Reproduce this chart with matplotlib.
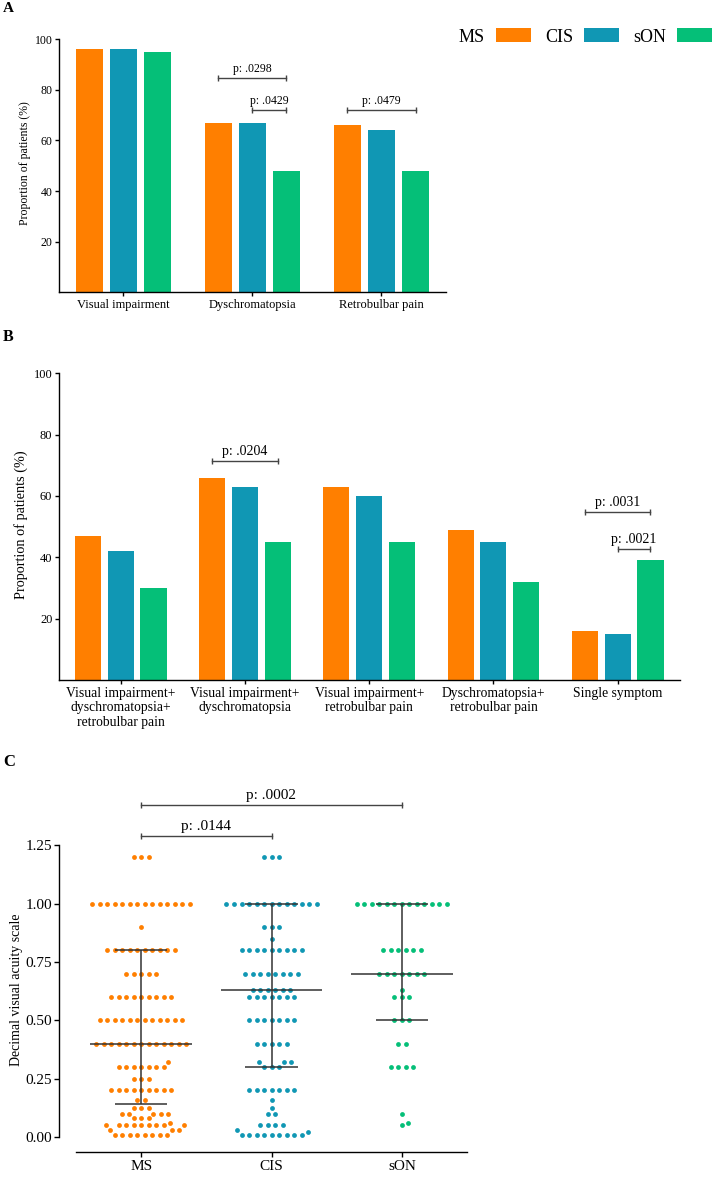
import numpy as np
import matplotlib
matplotlib.use('Agg')
import matplotlib.pyplot as plt

plt.rcParams['font.family'] = ['Liberation Serif', 'DejaVu Serif']
plt.rcParams['axes.linewidth'] = 1.0

W, H = 720, 1177

# ---------------- data ----------------
groups = ['MS', 'CIS', 'sON']
group_colors = ['#FF7F00', '#1097B4', '#05BF78']

# Panel A
a_categories = ['Visual impairment', 'Dyschromatopsia', 'Retrobulbar pain']
a_ms = [96, 67, 66]
a_cis = [96, 67, 64]
a_son = [95, 48, 48]
# (category, group i, group j, height, label)
a_brackets = [(1, 0, 2, 84.5, 'p: .0298'),
              (1, 1, 2, 72.0, 'p: .0429'),
              (2, 0, 2, 72.0, 'p: .0479')]

# Panel B
b_categories = ['Visual impairment+\ndyschromatopsia+\nretrobulbar pain',
                'Visual impairment+\ndyschromatopsia',
                'Visual impairment+\nretrobulbar pain',
                'Dyschromatopsia+\nretrobulbar pain',
                'Single symptom']
b_ms = [47, 66, 63, 49, 16]
b_cis = [42, 63, 60, 45, 15]
b_son = [30, 45, 45, 32, 39]
b_brackets = [(1, 0, 2, 71.4, 'p: .0204'),
              (4, 0, 2, 54.9, 'p: .0031'),
              (4, 1, 2, 42.7, 'p: .0021')]

# Panel C (decimal visual acuity: value, number of patients)
ms_values = [1.20, 1.00, 0.90, 0.80, 0.70, 0.60, 0.50, 0.40, 0.32, 0.30,
             0.25, 0.20, 0.16, 0.125, 0.10, 0.08, 0.06, 0.05, 0.03, 0.01]
ms_counts = [3, 14, 1, 10, 5, 9, 12, 13, 1, 7,
             3, 9, 2, 3, 5, 3, 1, 9, 3, 8]
cis_values = [1.20, 1.00, 0.90, 0.85, 0.80, 0.70, 0.63, 0.60, 0.50, 0.40,
              0.32, 0.30, 0.20, 0.16, 0.125, 0.10, 0.05, 0.03, 0.02, 0.01]
cis_counts = [3, 13, 3, 1, 9, 8, 6, 7, 7, 5,
              3, 3, 7, 1, 1, 2, 4, 1, 1, 9]
son_values = [1.00, 0.80, 0.70, 0.63, 0.60, 0.50, 0.40, 0.30, 0.10, 0.06, 0.05]
son_counts = [13, 6, 7, 1, 3, 3, 2, 4, 1, 1, 1]
c_medians = [0.40, 0.63, 0.70]
c_q1 = [0.14, 0.30, 0.50]
c_q3 = [0.80, 1.00, 1.00]
c_brackets = [(0, 2, 1.421, 'p: .0002'),
              (0, 1, 1.290, 'p: .0144')]

# ---------------- figure ----------------
fig = plt.figure(figsize=(W / 100, H / 100), dpi=100)


def px_axes(left, top, right, bottom):
    return fig.add_axes([left / W, 1 - bottom / H, (right - left) / W, (bottom - top) / H])


bar_step = 0.264
bar_width = 0.21
br_color = '#444444'


def bracket(ax, x1, x2, y, text, fs):
    ax.plot([x1, x2], [y, y], color=br_color, lw=1.0, marker='|', markersize=5,
            markeredgewidth=1.0, clip_on=False, zorder=4)
    ax.annotate(text, xy=((x1 + x2) / 2, y), xytext=(0, 2.2), textcoords='offset points',
                ha='center', va='bottom', fontsize=fs, annotation_clip=False)


def bar_panel(ax, cats, series, brackets, xfs, yfs, pfs):
    x = np.arange(len(cats))
    conts = []
    for k, vals in enumerate(series):
        conts.append(ax.bar(x + (k - 1) * bar_step, vals, bar_width,
                            color=group_colors[k], linewidth=0, zorder=2))
    ax.set_xlim(-0.5, len(cats) - 0.5)
    ax.set_ylim(0, 100)
    ax.set_yticks([20, 40, 60, 80, 100])
    ax.set_xticks(x)
    ax.set_xticklabels(cats, fontsize=xfs, linespacing=1.15)
    ax.tick_params(axis='y', labelsize=yfs, length=3, width=1, pad=1.5)
    ax.tick_params(axis='x', length=3, width=1, pad=2)
    for s in ['top', 'right']:
        ax.spines[s].set_visible(False)
    for (c, i, j, h, lab) in brackets:
        bracket(ax, c + (i - 1) * bar_step, c + (j - 1) * bar_step, h, lab, pfs)
    return conts


# Panel A
axA = px_axes(58.7, 39, 446, 292.4)
contsA = bar_panel(axA, a_categories, [a_ms, a_cis, a_son], a_brackets, 9, 8.5, 8.5)

# Panel B
axB = px_axes(58.6, 373.3, 679.8, 680)
bar_panel(axB, b_categories, [b_ms, b_cis, b_son], b_brackets, 9.8, 8.9, 10)

# Legend
fig.legend(handles=contsA, labels=groups, ncol=3, markerfirst=False, frameon=False,
           loc='center left', bbox_to_anchor=(459 / W, 1 - 37 / H), fontsize=13,
           handlelength=1.94, handleheight=0.83, handletextpad=0.6, columnspacing=0.78,
           borderpad=0, borderaxespad=0)

# Panel C
axC = px_axes(76, 845.3, 467, 1137)
axC.set_xlim(-0.5, 2.5)
axC.set_ylim(0, 1.25)
for s in ['top', 'right']:
    axC.spines[s].set_visible(False)
axC.spines['left'].set_position(('outward', 12))
axC.spines['bottom'].set_position(('outward', 10.8))
axC.set_yticks([0, 0.25, 0.5, 0.75, 1.0, 1.25])
axC.set_yticklabels(['%.2f' % v for v in [0, 0.25, 0.5, 0.75, 1.0, 1.25]])
axC.set_xticks([0, 1, 2])
axC.set_xticklabels(groups)
axC.tick_params(axis='y', labelsize=11, length=3.5, width=1, pad=1.5)
axC.tick_params(axis='x', labelsize=11, length=3.5, width=1, pad=2)

trans = axC.transData
px_per_x = trans.transform((1, 0))[0] - trans.transform((0, 0))[0]
px_per_y = trans.transform((0, 1))[1] - trans.transform((0, 0))[1]

D_SAME = 7.5
D_DIFF = 6.5


def swarm(values, counts):
    pts = []  # (xpix, ypix, value)
    order = np.argsort(values)
    out_v, out_x = [], []

    def collides(x, y, v):
        for (px, py, pv) in pts:
            t = D_SAME if pv == v else D_DIFF
            if (x - px) ** 2 + (y - py) ** 2 < t * t - 1e-6:
                return True
        return False

    for idx in order:
        v = values[idx]
        n = counts[idx]
        y = v * px_per_y
        row = (np.arange(n) - (n - 1) / 2) * D_SAME
        if not any(collides(x, y, v) for x in row):
            for x in row:
                pts.append((x, y, v))
                out_v.append(v)
                out_x.append(x)
            continue
        for _ in range(n):
            cands = [0.0]
            for (px, py, pv) in pts:
                t = D_SAME if pv == v else D_DIFF
                dy = abs(y - py)
                if dy < t:
                    dx = np.sqrt(t * t - dy * dy)
                    cands += [px + dx, px - dx]
            cands = sorted(cands, key=lambda c: (abs(c), -c))
            for c in cands:
                if not collides(c, y, v):
                    pts.append((c, y, v))
                    out_v.append(v)
                    out_x.append(c)
                    break
    return np.array(out_x) / px_per_x, np.array(out_v)


for k, (vals, cnts) in enumerate([(ms_values, ms_counts), (cis_values, cis_counts),
                                  (son_values, son_counts)]):
    dx, vv = swarm(vals, cnts)
    axC.scatter(k + dx, vv, s=12, color=group_colors[k], linewidths=0, clip_on=False, zorder=2)

line_c = '#333333'
for k in range(3):
    axC.hlines(c_medians[k], k - 0.39, k + 0.39, color=line_c, lw=1.1, zorder=3)
    axC.hlines([c_q1[k], c_q3[k]], k - 0.2, k + 0.2, color=line_c, lw=1.1, zorder=3)
    axC.vlines(k, c_q1[k], c_q3[k], color=line_c, lw=1.1, zorder=3)

for (i, j, h, lab) in c_brackets:
    bracket(axC, i, j, h, lab, 11)

# Axis labels
fig.text(25 / W, 1 - 163 / H, 'Proportion of patients (%)', rotation=90,
         ha='center', va='center', fontsize=8.5)
fig.text(21 / W, 1 - 525 / H, 'Proportion of patients (%)', rotation=90,
         ha='center', va='center', fontsize=10.3)
fig.text(17 / W, 1 - 990 / H, 'Decimal visual acuity scale', rotation=90,
         ha='center', va='center', fontsize=10)

# Panel letters
fig.text(8 / W, 1 - 9 / H, 'A', fontsize=11, fontweight='bold', ha='center', va='center')
fig.text(8 / W, 1 - 337 / H, 'B', fontsize=11.5, fontweight='bold', ha='center', va='center')
fig.text(9 / W, 1 - 762 / H, 'C', fontsize=12, fontweight='bold', ha='center', va='center')

fig.savefig('out.png', dpi=100)
